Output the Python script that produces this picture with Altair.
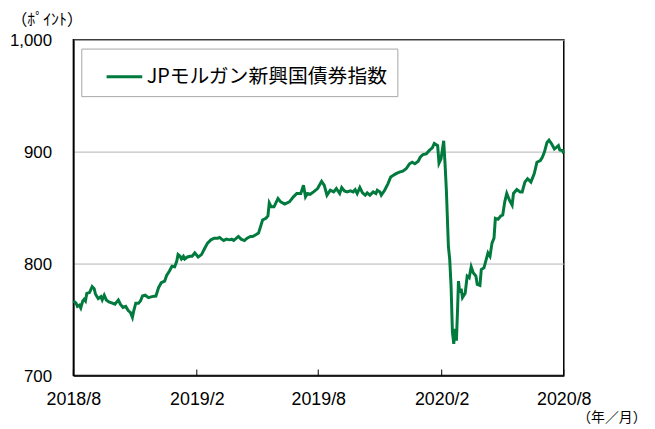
import altair as alt
import pandas as pd

SERIES = "JPモルガン新興国債券指数"
GREEN = "#007a3d"

DATES = [
    "2018-08-01", "2018-08-05", "2018-08-07", "2018-08-10", "2018-08-12", "2018-08-15", "2018-08-17", "2018-08-19", "2018-08-21", "2018-08-25",
    "2018-08-29", "2018-09-01", "2018-09-03", "2018-09-07", "2018-09-11", "2018-09-13", "2018-09-16", "2018-09-19", "2018-09-23", "2018-09-28",
    "2018-10-02", "2018-10-07", "2018-10-10", "2018-10-14", "2018-10-18", "2018-10-22", "2018-10-25", "2018-10-28", "2018-10-30", "2018-11-02",
    "2018-11-06", "2018-11-09", "2018-11-12", "2018-11-16", "2018-11-21", "2018-11-26", "2018-12-02", "2018-12-06", "2018-12-10", "2018-12-15",
    "2018-12-18", "2018-12-22", "2018-12-26", "2018-12-30", "2019-01-02", "2019-01-04", "2019-01-07", "2019-01-09", "2019-01-12", "2019-01-14",
    "2019-01-18", "2019-01-22", "2019-01-25", "2019-01-29", "2019-02-03", "2019-02-08", "2019-02-13", "2019-02-17", "2019-02-22", "2019-02-27",
    "2019-03-04", "2019-03-07", "2019-03-10", "2019-03-13", "2019-03-17", "2019-03-22", "2019-03-25", "2019-03-28", "2019-04-01", "2019-04-04",
    "2019-04-08", "2019-04-13", "2019-04-17", "2019-04-22", "2019-04-25", "2019-04-30", "2019-05-04", "2019-05-07", "2019-05-10", "2019-05-15",
    "2019-05-18", "2019-05-20", "2019-05-23", "2019-05-27", "2019-06-02", "2019-06-06", "2019-06-12", "2019-06-19", "2019-06-25", "2019-06-30",
    "2019-07-06", "2019-07-10", "2019-07-13", "2019-07-16", "2019-07-20", "2019-07-25", "2019-07-31", "2019-08-06", "2019-08-10", "2019-08-14",
    "2019-08-19", "2019-08-24", "2019-08-28", "2019-09-02", "2019-09-05", "2019-09-09", "2019-09-13", "2019-09-18", "2019-09-22", "2019-09-25",
    "2019-09-28", "2019-10-02", "2019-10-06", "2019-10-10", "2019-10-13", "2019-10-17", "2019-10-22", "2019-10-26", "2019-10-28", "2019-11-01",
    "2019-11-03", "2019-11-08", "2019-11-13", "2019-11-17", "2019-11-21", "2019-11-25", "2019-11-30", "2019-12-05", "2019-12-10", "2019-12-15",
    "2019-12-19", "2019-12-23", "2019-12-28", "2019-12-31", "2020-01-04", "2020-01-09", "2020-01-14", "2020-01-18", "2020-01-21", "2020-01-26",
    "2020-01-28", "2020-01-31", "2020-02-04", "2020-02-06", "2020-02-08", "2020-02-11", "2020-02-13", "2020-02-15", "2020-02-17", "2020-02-19",
    "2020-02-21", "2020-02-23", "2020-02-25", "2020-02-26", "2020-02-28", "2020-03-01", "2020-03-03", "2020-03-07", "2020-03-10", "2020-03-13",
    "2020-03-16", "2020-03-19", "2020-03-23", "2020-03-25", "2020-03-29", "2020-03-31", "2020-04-04", "2020-04-06", "2020-04-10", "2020-04-13",
    "2020-04-16", "2020-04-19", "2020-04-21", "2020-04-25", "2020-04-29", "2020-05-02", "2020-05-05", "2020-05-08", "2020-05-12", "2020-05-16",
    "2020-05-18", "2020-05-23", "2020-05-28", "2020-05-31", "2020-06-04", "2020-06-08", "2020-06-13", "2020-06-18", "2020-06-22", "2020-06-27",
    "2020-06-30", "2020-07-03", "2020-07-07", "2020-07-10", "2020-07-14", "2020-07-18", "2020-07-21", "2020-07-24", "2020-07-26", "2020-07-30",
    "2020-08-01",
]

VALUES = [
    766.6, 764.6, 761.7, 762.8, 760.4, 766.6, 768.1, 766.6, 773.4, 774.1,
    779.4, 777.6, 772.6, 768.7, 770.5, 767.5, 771.7, 767.5, 765.7, 764.6,
    763.7, 767.5, 763.7, 760.8, 761.7, 757.8, 756.4, 751.9, 757.8, 764.6,
    764.6, 766.6, 771.0, 771.7, 769.6, 770.5, 771.0, 778.5, 782.9, 784.3,
    789.4, 793.2, 797.6, 797.1, 802.0, 808.0, 806.5, 804.1, 806.5, 804.1,
    805.9, 806.5, 806.5, 809.5, 805.9, 808.0, 813.9, 818.3, 821.2, 822.7,
    822.7, 823.3, 821.8, 820.6, 821.8, 821.2, 821.8, 820.6, 822.7, 824.2,
    821.8, 820.6, 822.7, 824.2, 824.2, 825.7, 827.2, 833.0, 838.9, 840.4,
    842.5, 854.2, 850.7, 850.7, 858.1, 855.1, 853.1, 855.1, 859.6, 862.6,
    862.6, 869.9, 859.6, 862.6, 861.9, 864.0, 867.0, 873.4, 869.9, 861.1,
    865.5, 864.0, 867.0, 862.6, 867.9, 864.9, 864.0, 864.9, 864.0, 866.1,
    862.6, 867.9, 863.1, 861.1, 863.1, 861.1, 864.0, 862.6, 865.5, 864.0,
    861.1, 865.5, 871.4, 877.3, 878.8, 880.3, 881.7, 882.6, 884.7, 889.1,
    890.5, 889.1, 891.4, 895.0, 897.3, 898.0, 901.3, 903.3, 907.3, 905.3,
    889.6, 893.5, 909.7, 889.1, 865.5, 815.3, 803.5, 779.9, 738.7, 728.3,
    741.6, 731.2, 765.2, 784.3, 774.1, 777.6, 769.6, 773.4, 788.8, 787.3,
    797.1, 791.8, 788.8, 781.4, 780.5, 794.7, 796.2, 800.6, 809.5, 806.5,
    818.3, 822.7, 840.4, 839.5, 842.5, 843.4, 855.1, 862.6, 856.6, 852.2,
    862.6, 866.1, 864.0, 864.0, 872.8, 875.8, 872.8, 880.3, 890.5, 892.0,
    895.0, 899.4, 908.2, 910.3, 906.8, 902.4, 903.8, 905.3, 901.5, 900.9,
    898.5,
]

TICK_DATES = ["2018-08-01", "2019-02-01", "2019-08-01", "2020-02-01", "2020-08-01"]
TICK_LABELS = ["2018/8", "2019/2", "2019/8", "2020/2", "2020/8"]
Y_TICKS = [700, 800, 900, 1000]
Y_DOMAIN = [700, 1000]

PLOT_W = 495
PLOT_H = 339
TICK_LEN = 6

df = pd.DataFrame({"date": DATES, "value": VALUES, "series": SERIES})
ticks_df = pd.DataFrame({"date": TICK_DATES})


def dt(s):
    y, m, d = map(int, s.split("-"))
    return alt.DateTime(year=y, month=m, date=d, utc=True)


# label expression built from the tick lists
label_expr = "utcFormat(datum.value, '%Y-%m-%d')"
for d, l in reversed(list(zip(TICK_DATES, TICK_LABELS))):
    label_expr = f"utcFormat(datum.value, '%Y-%m') == '{d[:7]}' ? '{l}' : ({label_expr})"

x_scale = alt.Scale(type="utc", domain=[dt(TICK_DATES[0]), dt(TICK_DATES[-1])])
x_axis = alt.Axis(
    values=[dt(s) for s in TICK_DATES],
    labelExpr=label_expr,
    grid=False,
    ticks=False,
    tickSize=0,
    labelPadding=15,
    labelFontSize=18,
    labelFlush=False,
    labelOverlap=False,
    title="（年／月）",
    titleX=543,
    titleY=42,
    titleFontSize=14,
    titleAlign="center",
    titleBaseline="middle",
)
x_enc = alt.X("date:T", scale=x_scale, axis=x_axis)

line = alt.Chart(df).mark_line(strokeWidth=3).encode(
    x=x_enc,
    y=alt.Y(
        "value:Q",
        scale=alt.Scale(domain=Y_DOMAIN, nice=False, zero=False),
        axis=alt.Axis(
            values=Y_TICKS,
            format=",.0f",
            grid=True,
            ticks=False,
            tickSize=0,
            labelPadding=22,
            labelOffset=1,
            title="（ﾎﾟｲﾝﾄ）",
            titleAngle=0,
            titleX=-63,
            titleY=-20,
            titleAlign="left",
            titleBaseline="middle",
            titleFontSize=16,
        ),
    ),
    color=alt.Color(
        "series:N",
        scale=alt.Scale(domain=[SERIES], range=[GREEN]),
        legend=alt.Legend(
            title=None,
            orient="none",
            legendX=8,
            legendY=9,
            direction="vertical",
            strokeColor="#a6a6a6",
            fillColor="white",
            padding=9,
            symbolType="stroke",
            symbolSize=1296,
            symbolStrokeWidth=3,
            symbolOffset=15,
            labelOffset=3,
            labelFont="Noto Sans CJK JP",
            labelFontSize=20,
            labelLimit=400,
            labelColor="black",
        ),
    ),
)

tick_rules = alt.Chart(ticks_df).mark_rule(color="black", strokeWidth=1).encode(
    x=x_enc,
    y=alt.value(PLOT_H - TICK_LEN),
    y2=alt.value(PLOT_H),
)

chart = (
    alt.layer(line, tick_rules)
    .properties(
        width=PLOT_W,
        height=PLOT_H,
        padding={"left": 66, "top": 30, "right": 84, "bottom": 50},
        autosize=alt.AutoSizeParams(type="none"),
        background="white",
    )
    .configure_view(stroke="black", strokeWidth=1.5)
    .configure_axis(
        labelFont="Liberation Sans",
        labelFontSize=17,
        labelColor="black",
        domainColor="black",
        domainWidth=1.5,
        titleFont="Noto Sans CJK JP",
        titleFontSize=15,
        titleFontWeight="normal",
        titleColor="black",
        gridColor="#b4b4b4",
        gridWidth=1,
    )
)

chart.save("out.html", embed_options={"renderer": "svg", "actions": False})
